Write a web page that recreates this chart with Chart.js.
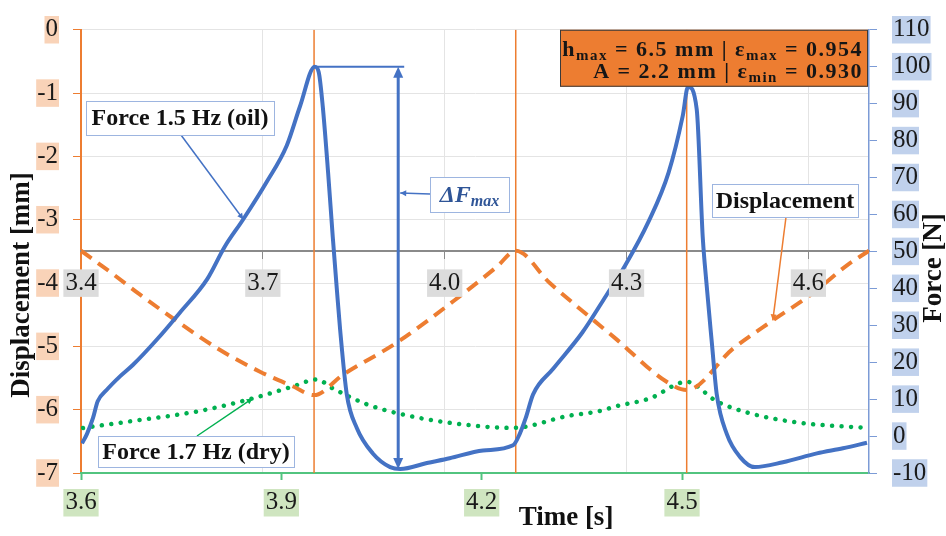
<!DOCTYPE html>
<html>
<head>
<meta charset="utf-8">
<script src="https://cdn.jsdelivr.net/npm/chart.js@4.4.1/dist/chart.umd.min.js"></script>
<style>
  html, body { margin: 0; padding: 0; background: #fff; }
  #wrap { width: 946px; height: 536px; }
</style>
</head>
<body>
<div id="wrap"><canvas id="chart"></canvas></div>
<script>
// time axis ticks (bottom axis and the one crossing at -3.5 mm)
const timeTicks = [3.6, 3.9, 4.2, 4.5];
const timeTicksMid = [3.4, 3.7, 4.0, 4.3, 4.6];

// Force 1.5 Hz (oil) [N]
const oilTime = [3.6015, 3.609, 3.618, 3.625, 3.639, 3.658, 3.678, 3.714, 3.748, 3.789, 3.815, 3.843, 3.878, 3.908, 3.928,
  3.950, 3.956, 3.962, 3.970, 3.977, 3.983, 3.988, 3.998, 4.013, 4.037, 4.063, 4.078, 4.118, 4.152, 4.202,
  4.247, 4.257, 4.266, 4.277, 4.307, 4.351, 4.387, 4.414, 4.450, 4.480, 4.501, 4.509, 4.522, 4.531,
  4.534, 4.545, 4.552, 4.567, 4.587, 4.609, 4.651, 4.702, 4.741, 4.777];
const oilForce = [-2.0, 0.6, 4.9, 9.4, 12.6, 16.1, 19.3, 26.2, 33.4, 42.5, 51.2, 58.7, 68.8, 78.6, 89.3,
  100.0, 98.5, 89.3, 71.4, 53.9, 40.0, 28.9, 11.3, 2.2, -4.7, -8.4, -8.9, -7.3, -6.0, -3.9,
  -2.5, 0.6, 4.9, 11.3, 18.2, 28.1, 38.2, 45.9, 58.1, 71.4, 86.6, 94.6, 88.5, 53.9,
  46.7, 24.6, 11.3, 0.6, -5.7, -8.4, -7.1, -4.7, -3.3, -1.8];

// Displacement [mm]
const dispTime = [3.600, 3.643, 3.688, 3.738, 3.804, 3.868, 3.917, 3.949, 3.992, 4.073, 4.167, 4.223,
  4.251, 4.302, 4.377, 4.402, 4.477, 4.507, 4.576, 4.636, 4.696, 4.747, 4.780];
const displacement = [-3.49, -3.82, -4.18, -4.56, -5.03, -5.40, -5.63, -5.77, -5.45, -4.94, -4.21, -3.74,
  -3.49, -4.00, -4.67, -4.89, -5.56, -5.69, -5.04, -4.59, -4.16, -3.72, -3.49];

// Force 1.7 Hz (dry) [N]
const dryTime = [3.603, 3.678, 3.778, 3.857, 3.917, 3.953, 3.977, 4.028, 4.078, 4.152, 4.247, 4.328,
  4.377, 4.402, 4.452, 4.507, 4.552, 4.601, 4.676, 4.777];
const dryForce = [2.2, 4.1, 6.8, 10.2, 13.4, 15.3, 12.9, 8.6, 6.0, 3.6, 2.2, 5.4,
  6.8, 8.1, 10.2, 14.7, 9.4, 6.2, 3.6, 2.2];

// vertical markers
const peakTimes = [3.949, 4.251, 4.507];

const ORANGE = '#ED7D31';
const BLUE = '#4472C4';
const GREEN = '#00B050';
const SERIF = '"Liberation Serif", "Times New Roman", serif';

const toXY = (xs, ys) => xs.map((x, i) => ({x: x, y: ys[i]}));

const tickFont = {family: SERIF, size: 25, lineHeight: 1.1};

const annotations = {
    id: 'annotations',
    afterDraw(chart) {
        const ctx = chart.ctx;
        const x = chart.scales.x, y = chart.scales.y, y1 = chart.scales.y1;
        const ca = chart.chartArea;

        const arrowHead = (tx, ty, fx, fy, len, half) => {
            const a = Math.atan2(ty - fy, tx - fx);
            ctx.beginPath();
            ctx.moveTo(tx, ty);
            ctx.lineTo(tx - len * Math.cos(a) + half * Math.sin(a), ty - len * Math.sin(a) - half * Math.cos(a));
            ctx.lineTo(tx - len * Math.cos(a) - half * Math.sin(a), ty - len * Math.sin(a) + half * Math.cos(a));
            ctx.closePath();
            ctx.fill();
        };

        const callout = (box, anchor, tip, color, text) => {
            ctx.save();
            ctx.strokeStyle = color;
            ctx.fillStyle = color;
            ctx.lineWidth = 1.5;
            ctx.beginPath();
            ctx.moveTo(anchor[0], anchor[1]);
            ctx.lineTo(tip[0], tip[1]);
            ctx.stroke();
            arrowHead(tip[0], tip[1], anchor[0], anchor[1], 6, 3);
            if (text) {
                ctx.fillStyle = '#fff';
                ctx.fillRect(box.x, box.y, box.w, box.h);
                ctx.strokeStyle = '#9DB5E0';
                ctx.lineWidth = 1;
                ctx.strokeRect(box.x + 0.5, box.y + 0.5, box.w, box.h);
                ctx.fillStyle = '#111';
                ctx.font = 'bold 24px ' + SERIF;
                ctx.textAlign = 'center';
                ctx.textBaseline = 'middle';
                ctx.fillText(text, box.x + box.w / 2, box.y + box.h / 2 + 1);
            }
            ctx.restore();
        };

        const runs = (list, startX, baseline, align) => {
            let total = 0;
            list.forEach(r => { ctx.font = r.f; total += ctx.measureText(r.t).width; });
            let cx = align === 'right' ? startX - total : (align === 'center' ? startX - total / 2 : startX);
            ctx.textAlign = 'left';
            ctx.textBaseline = 'alphabetic';
            list.forEach(r => {
                ctx.font = r.f;
                ctx.fillText(r.t, cx, baseline + (r.dy || 0));
                cx += ctx.measureText(r.t).width;
            });
        };

        // Delta F max arrow: from lowest to highest oil force
        let iMax = 0, iMin = 0;
        oilForce.forEach((v, i) => { if (v > oilForce[iMax]) iMax = i; if (v < oilForce[iMin]) iMin = i; });
        const ax = x.getPixelForValue(oilTime[iMin]) - 2;
        const aTop = y1.getPixelForValue(oilForce[iMax]);
        const aBot = y1.getPixelForValue(oilForce[iMin]);
        ctx.save();
        ctx.strokeStyle = BLUE;
        ctx.fillStyle = BLUE;
        ctx.lineWidth = 2;
        ctx.beginPath();
        ctx.moveTo(x.getPixelForValue(oilTime[iMax]), aTop);
        ctx.lineTo(ax + 6, aTop);
        ctx.stroke();
        ctx.lineWidth = 3;
        ctx.beginPath();
        ctx.moveTo(ax, aTop + 9);
        ctx.lineTo(ax, aBot - 9);
        ctx.stroke();
        arrowHead(ax, aTop, ax, aBot, 11, 5);
        arrowHead(ax, aBot, ax, aTop, 11, 5);
        ctx.restore();

        // callouts
        callout({x: 86, y: 101, w: 188, h: 34}, [181, 135],
            [x.getPixelForValue(oilTime[11]), y1.getPixelForValue(oilForce[11])], BLUE, 'Force 1.5 Hz (oil)');
        callout({x: 98, y: 436, w: 196, h: 31}, [197, 436],
            [x.getPixelForValue(dryTime[3]), y1.getPixelForValue(dryForce[3])], GREEN, 'Force 1.7 Hz (dry)');
        callout({x: 712, y: 184, w: 146, h: 33}, [786, 217],
            [x.getPixelForValue(dispTime[19]), y.getPixelForValue(displacement[19])], ORANGE, 'Displacement');

        // Delta F label
        const fb = {x: 430, y: 177, w: 79, h: 35};
        callout(fb, [fb.x, fb.y + 17], [ax + 2, fb.y + 16], BLUE, null);
        ctx.save();
        ctx.fillStyle = '#fff';
        ctx.fillRect(fb.x, fb.y, fb.w, fb.h);
        ctx.strokeStyle = '#9DB5E0';
        ctx.lineWidth = 1;
        ctx.strokeRect(fb.x + 0.5, fb.y + 0.5, fb.w, fb.h);
        ctx.fillStyle = '#2F5597';
        runs([
            {t: 'ΔF', f: 'italic bold 24px ' + SERIF},
            {t: 'max', f: 'italic bold 16px ' + SERIF, dy: 4}
        ], fb.x + fb.w / 2, fb.y + 25, 'center');
        ctx.restore();

        // parameter box
        ctx.save();
        const bw = 308, bh = 57;
        const bx = ca.right - 1 - bw, by = ca.top;
        ctx.fillStyle = ORANGE;
        ctx.fillRect(bx, by, bw, bh);
        ctx.strokeStyle = '#3A3A3A';
        ctx.lineWidth = 1;
        ctx.strokeRect(bx + 0.5, by + 0.5, bw - 1, bh - 1);
        ctx.fillStyle = '#161616';
        if ('letterSpacing' in ctx) ctx.letterSpacing = '1.5px';
        const big = 'bold 22px ' + SERIF, small = 'bold 15px ' + SERIF;
        runs([
            {t: 'h', f: big}, {t: 'max', f: small, dy: 4},
            {t: ' = 6.5 mm | ε', f: big}, {t: 'max', f: small, dy: 4},
            {t: ' = 0.954', f: big}
        ], bx + bw - 5, by + 26, 'right');
        runs([
            {t: 'A = 2.2 mm | ε', f: big}, {t: 'min', f: small, dy: 4},
            {t: ' = 0.930', f: big}
        ], bx + bw - 5, by + 48, 'right');
        ctx.restore();

        // axis titles
        ctx.save();
        ctx.fillStyle = '#111';
        ctx.font = 'bold 27px ' + SERIF;
        ctx.textAlign = 'center';
        ctx.textBaseline = 'middle';
        ctx.fillText('Time [s]', 566, 518);
        ctx.translate(22, 285);
        ctx.rotate(-Math.PI / 2);
        ctx.fillText('Displacement [mm]', 0, 0);
        ctx.restore();
        ctx.save();
        ctx.fillStyle = '#111';
        ctx.font = 'bold 27px ' + SERIF;
        ctx.textAlign = 'center';
        ctx.textBaseline = 'middle';
        ctx.translate(934, 268);
        ctx.rotate(-Math.PI / 2);
        ctx.fillText('Force [N]', 0, 0);
        ctx.restore();
    }
};

const lineSet = (label, data, yAxisID, extra) => Object.assign({
    label: label,
    data: data,
    xAxisID: 'x',
    yAxisID: yAxisID,
    pointRadius: 0,
    fill: false,
    cubicInterpolationMode: 'monotone'
}, extra);

const datasets = [
    lineSet('Force 1.5 Hz (oil)', toXY(oilTime, oilForce), 'y1', {borderColor: BLUE, borderWidth: 4, borderJoinStyle: 'round'}),
    lineSet('Displacement', toXY(dispTime, displacement), 'y', {borderColor: ORANGE, borderWidth: 4, borderDash: [13, 8]}),
    lineSet('Force 1.7 Hz (dry)', toXY(dryTime, dryForce), 'y1', {borderColor: GREEN, borderWidth: 4.5, borderDash: [0.01, 9.5], borderCapStyle: 'round'})
];
peakTimes.forEach(t => {
    datasets.push(lineSet('', [{x: t, y: 0}, {x: t, y: -7}], 'y', {borderColor: ORANGE, borderWidth: 1.5}));
});

new Chart(document.getElementById('chart'), {
    type: 'line',
    data: {datasets: datasets},
    options: {
        responsive: true,
        maintainAspectRatio: false,
        animation: false,
        layout: {padding: {top: 22, left: 0, right: 0, bottom: 0}},
        plugins: {
            legend: {display: false},
            tooltip: {enabled: false}
        },
        scales: {
            x: {
                type: 'linear',
                position: 'bottom',
                min: 3.6,
                max: 4.78,
                afterBuildTicks: s => { s.ticks = timeTicks.map(v => ({value: v})); },
                afterFit: s => { s.height = 63; },
                border: {color: '#52C47F', width: 2},
                grid: {drawOnChartArea: false, tickColor: '#52C47F', tickLength: 7, tickWidth: 2},
                ticks: {
                    font: tickFont, color: '#1a1a1a', padding: 9, maxRotation: 0, autoSkip: false,
                    callback: v => v.toFixed(1),
                    showLabelBackdrop: true, backdropColor: '#CFE5C0', backdropPadding: {left: 2, right: 2, top: 0, bottom: 0}
                }
            },
            x2: {
                type: 'linear',
                position: {y: -3.5},
                min: 3.4,
                max: 4.7,
                afterBuildTicks: s => { s.ticks = timeTicksMid.map(v => ({value: v})); },
                border: {color: '#8A8A8A', width: 2},
                grid: {
                    color: c => c.index === 0 ? 'rgba(0,0,0,0)' : '#E4E4E4',
                    lineWidth: 1, tickColor: '#8A8A8A', tickLength: 7
                },
                ticks: {
                    z: 1,
                    font: tickFont, color: '#1a1a1a', padding: 11, maxRotation: 0, autoSkip: false,
                    callback: v => v.toFixed(1),
                    showLabelBackdrop: true, backdropColor: '#DCDCDC', backdropPadding: {left: 2, right: 2, top: 0, bottom: 0}
                }
            },
            y: {
                position: 'left',
                min: -7,
                max: 0,
                afterFit: s => { s.width = 81; },
                border: {color: ORANGE, width: 2, z: -1},
                grid: {color: '#E4E4E4', tickColor: ORANGE, tickLength: 8},
                ticks: {
                    stepSize: 1, font: tickFont, color: '#1a1a1a', padding: 15,
                    showLabelBackdrop: true, backdropColor: '#F9D3B8', backdropPadding: {left: 1, right: 1, top: 0, bottom: 0}
                }
            },
            y1: {
                position: 'right',
                min: -10,
                max: 110,
                afterFit: s => { s.width = 77; },
                border: {color: '#7C9BD6', width: 1.5},
                grid: {drawOnChartArea: false, tickColor: '#7C9BD6', tickLength: 8},
                ticks: {
                    stepSize: 10, font: tickFont, color: '#1a1a1a', padding: 16,
                    showLabelBackdrop: true, backdropColor: '#C0D1EC', backdropPadding: {left: 1, right: 1, top: 0, bottom: 0}
                }
            }
        }
    },
    plugins: [annotations]
});
</script>
</body>
</html>
